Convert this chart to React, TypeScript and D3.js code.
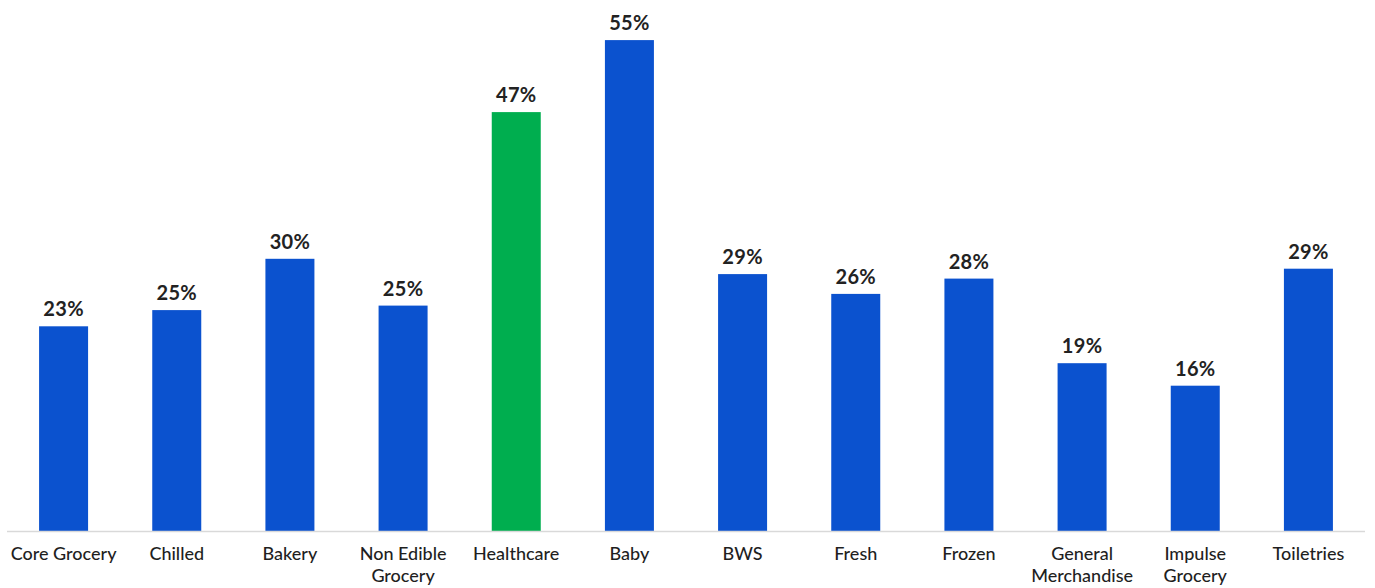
import React from "react";
import * as d3 from "d3";

const categories: string[][] = [
  ["Core Grocery"],
  ["Chilled"],
  ["Bakery"],
  ["Non Edible", "Grocery"],
  ["Healthcare"],
  ["Baby"],
  ["BWS"],
  ["Fresh"],
  ["Frozen"],
  ["General", "Merchandise"],
  ["Impulse", "Grocery"],
  ["Toiletries"],
];
const values: number[] = [22.8, 24.6, 30.3, 25.1, 46.6, 54.6, 28.6, 26.4, 28.1, 18.7, 16.2, 29.2];
const highlight: string = "Healthcare";

const W = 1375;
const H = 588;
const BLUE = "#0B52CF";
const GREEN = "#00AE4F";

export default function App() {
  const keys = categories.map((c) => c.join(" "));
  const x = d3.scaleBand<string>().domain(keys).range([7, 1365]).paddingInner(0.567).paddingOuter(0.2835);
  const y = d3.scaleLinear().domain([0, 59]).range([531.5, 0.5]);
  const fmt = (v: number) => `${Math.round(v)}%`;
  return (
    <div style={{ position: "fixed", left: 0, top: 0, background: "#fff" }}>
      <svg width={W} height={H} style={{ display: "block" }}>
        <rect x={0} y={0} width={W} height={H} fill="#fff" />
        {values.map((v, i) => {
          const k = keys[i];
          const x0 = x(k)!;
          return (
            <g key={k}>
              <rect
                x={x0}
                y={y(v)}
                width={x.bandwidth()}
                height={y(0) - y(v)}
                fill={k === highlight ? GREEN : BLUE}
              />
              <text
                x={x0 + x.bandwidth() / 2}
                y={y(v) - 10}
                textAnchor="middle"
                fontFamily="Lato, 'Open Sans', sans-serif"
                fontWeight={700}
                fontSize={20}
                letterSpacing={0.3}
                fill="#222"
              >
                {fmt(v)}
              </text>
            </g>
          );
        })}
        <line x1={7} x2={1365} y1={531.5} y2={531.5} stroke="#d9d9d9" strokeWidth={1.5} />
        {categories.map((lines, i) => {
          const k = keys[i];
          const cx = x(k)! + x.bandwidth() / 2;
          return (
            <text
              key={k}
              x={cx}
              y={560}
              textAnchor="middle"
              fontFamily="Lato, 'Open Sans', sans-serif"
              fontWeight={500}
              fontSize={18}
              fill="#1f1f1f"
            >
              {lines.map((l, j) => (
                <tspan key={j} x={cx} dy={j === 0 ? 0 : 22}>
                  {l}
                </tspan>
              ))}
            </text>
          );
        })}
      </svg>
    </div>
  );
}
